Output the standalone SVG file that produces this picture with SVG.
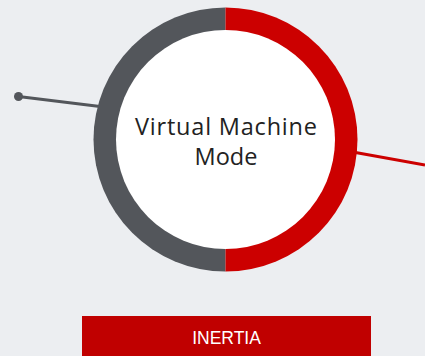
<svg xmlns="http://www.w3.org/2000/svg" width="425" height="356" viewBox="0 0 425 356">
<style>
.bg{fill:#eceef1}
.gray{fill:#53565b}
.red{fill:#cc0000}
.label{font-family:"Open Sans","Liberation Sans",sans-serif;font-weight:400;font-size:23.5px;fill:#222222;text-anchor:middle}
.btn{font-family:"Liberation Sans",Arial,sans-serif;font-size:17.5px;fill:#ffffff;text-anchor:middle}
</style>
<rect class="bg" x="0" y="0" width="425" height="356"/>
<g id="connectors">
<line x1="18.5" y1="96.5" x2="100" y2="106.5" stroke="#53565b" stroke-width="3"/>
<circle cx="18.5" cy="96.5" r="4.5" fill="#53565b"/>
<line x1="350" y1="151.5" x2="425" y2="165" stroke="#cc0000" stroke-width="3"/>
</g>
<g id="node-vm">
<path class="gray" d="M225.5 7.5 A132 132 0 0 0 225.5 271.5 Z"/>
<path class="red" d="M225.5 7.5 A132 132 0 0 1 225.5 271.5 Z"/>
<circle cx="225.5" cy="139.5" r="109.5" fill="#ffffff"/>
<text class="label" x="226" y="135" textLength="182" lengthAdjust="spacing">Virtual Machine</text>
<text class="label" x="226" y="165" textLength="63" lengthAdjust="spacing">Mode</text>
</g>
<g id="node-inertia">
<rect x="82" y="316" width="289" height="40" fill="#c00000"/>
<text class="btn" x="226.5" y="344">INERTIA</text>
</g>
</svg>
